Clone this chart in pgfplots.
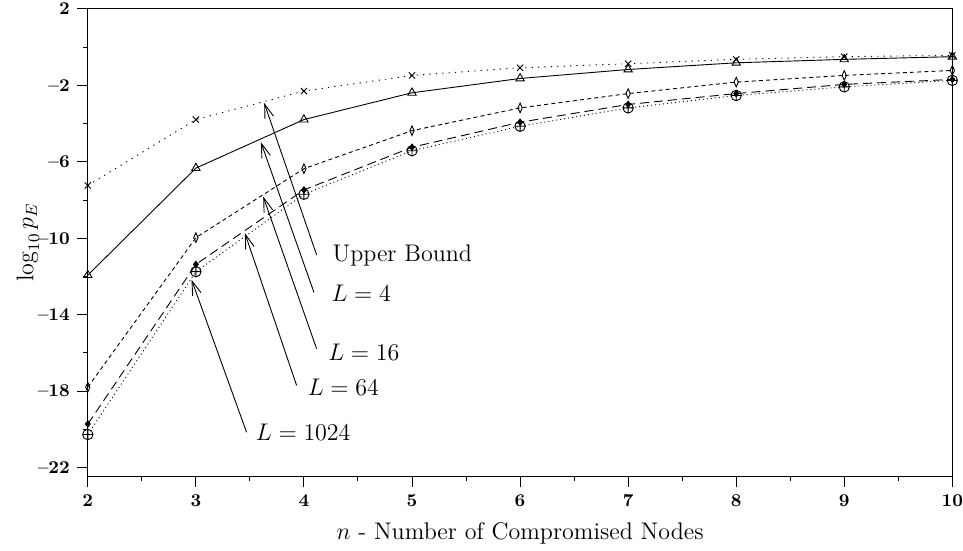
\documentclass[border=0pt]{standalone}
\usepackage{pgfplots}
\pgfplotsset{compat=1.18}
\usetikzlibrary{arrows.meta}

\begin{document}
\begin{tikzpicture}
\begin{axis}[
  scale only axis,
  width=432pt, height=233.5pt,
  xmin=2, xmax=10, ymin=-22.45, ymax=2,
  xtick={2,3,4,5,6,7,8,9,10},
  minor xtick={2.5,3.5,4.5,5.5,6.5,7.5,8.5,9.5},
  ytick={-22,-18,-14,-10,-6,-2,2},
  yticklabels={--22,--18,--14,--10,--6,--2,2},
  minor ytick={-20,-16,-12,-8,-4,0},
  xticklabels={2,3,4,5,6,7,8,9,10},
  tick align=outside,
  xtick pos=left, ytick pos=left,
  major tick length=5.5pt, minor tick length=2.5pt,
  tick style={black, line width=0.5pt},
  ticklabel style={font=\bfseries\small},
  xticklabel style={inner xsep=0pt},
  yticklabel style={inner ysep=0pt},
  axis line style={line width=0.6pt},
  xlabel={$n$ - Number of Compromised Nodes},
  ylabel={$\log_{10} p_E$},
  label style={font=\large},
  xlabel style={yshift=-1pt},
  ylabel style={yshift=-7.5pt},
  every axis plot/.append style={black, line width=0.45pt},
  clip=false,
]
% Upper bound
\addplot[dash pattern=on 0.6pt off 2.6pt, mark=x, mark size=2.2pt,
  mark options={solid}] coordinates {
  (2,-7.24) (3,-3.79) (4,-2.30) (5,-1.48) (6,-1.08)
  (7,-0.87) (8,-0.64) (9,-0.50) (10,-0.43)};
% L = 4
\addplot[solid, mark=triangle, mark size=2.4pt] coordinates {
  (2,-11.93) (3,-6.33) (4,-3.79) (5,-2.39) (6,-1.64)
  (7,-1.17) (8,-0.82) (9,-0.64) (10,-0.50)};
% L = 16
\addplot[dash pattern=on 2pt off 1.6pt, mark=diamond, mark size=2.4pt,
  mark options={solid, xscale=0.6}] coordinates {
  (2,-17.79) (3,-9.97) (4,-6.36) (5,-4.37) (6,-3.18)
  (7,-2.43) (8,-1.83) (9,-1.48) (10,-1.22)};
% L = 64
\addplot[dash pattern=on 4.5pt off 2.5pt, mark=diamond*, mark size=1.6pt,
  mark options={solid, fill=black}] coordinates {
  (2,-19.72) (3,-11.37) (4,-7.47) (5,-5.24) (6,-3.93)
  (7,-3.00) (8,-2.43) (9,-1.95) (10,-1.69)};
% L = 1024
\addplot[dash pattern=on 0.5pt off 1.5pt, mark=oplus, mark size=2.6pt,
  mark options={solid}] coordinates {
  (2,-20.27) (3,-11.75) (4,-7.70) (5,-5.42) (6,-4.14)
  (7,-3.18) (8,-2.53) (9,-2.08) (10,-1.74)};

% curve labels with pointers
\tikzset{pointer/.style={-{Straight Barb[length=7pt,width=4.5pt]}, line width=0.45pt}}
\draw[pointer] (axis cs:4.118,-10.88) -- (axis cs:3.632,-2.92);
\node[anchor=west, font=\large] at (axis cs:4.20,-10.88) {Upper Bound};
\draw[pointer] (axis cs:4.093,-12.84) -- (axis cs:3.602,-4.98);
\node[anchor=west, font=\large] at (axis cs:4.19,-12.90) {$L=4$};
\draw[pointer] (axis cs:4.117,-15.78) -- (axis cs:3.623,-7.82);
\node[anchor=west, font=\large] at (axis cs:4.16,-15.95) {$L=16$};
\draw[pointer] (axis cs:3.932,-17.70) -- (axis cs:3.454,-9.74);
\node[anchor=west, font=\large] at (axis cs:3.97,-17.82) {$L=64$};
\draw[pointer] (axis cs:3.469,-20.15) -- (axis cs:2.960,-12.17);
\node[anchor=west, font=\large] at (axis cs:3.49,-20.15) {$L=1024$};
\end{axis}
% a little extra margin left of the y label and above the top tick label
\path ([xshift=-5pt]current bounding box.west);
\path ([yshift=1.5pt]current bounding box.north);
\end{tikzpicture}
\end{document}
